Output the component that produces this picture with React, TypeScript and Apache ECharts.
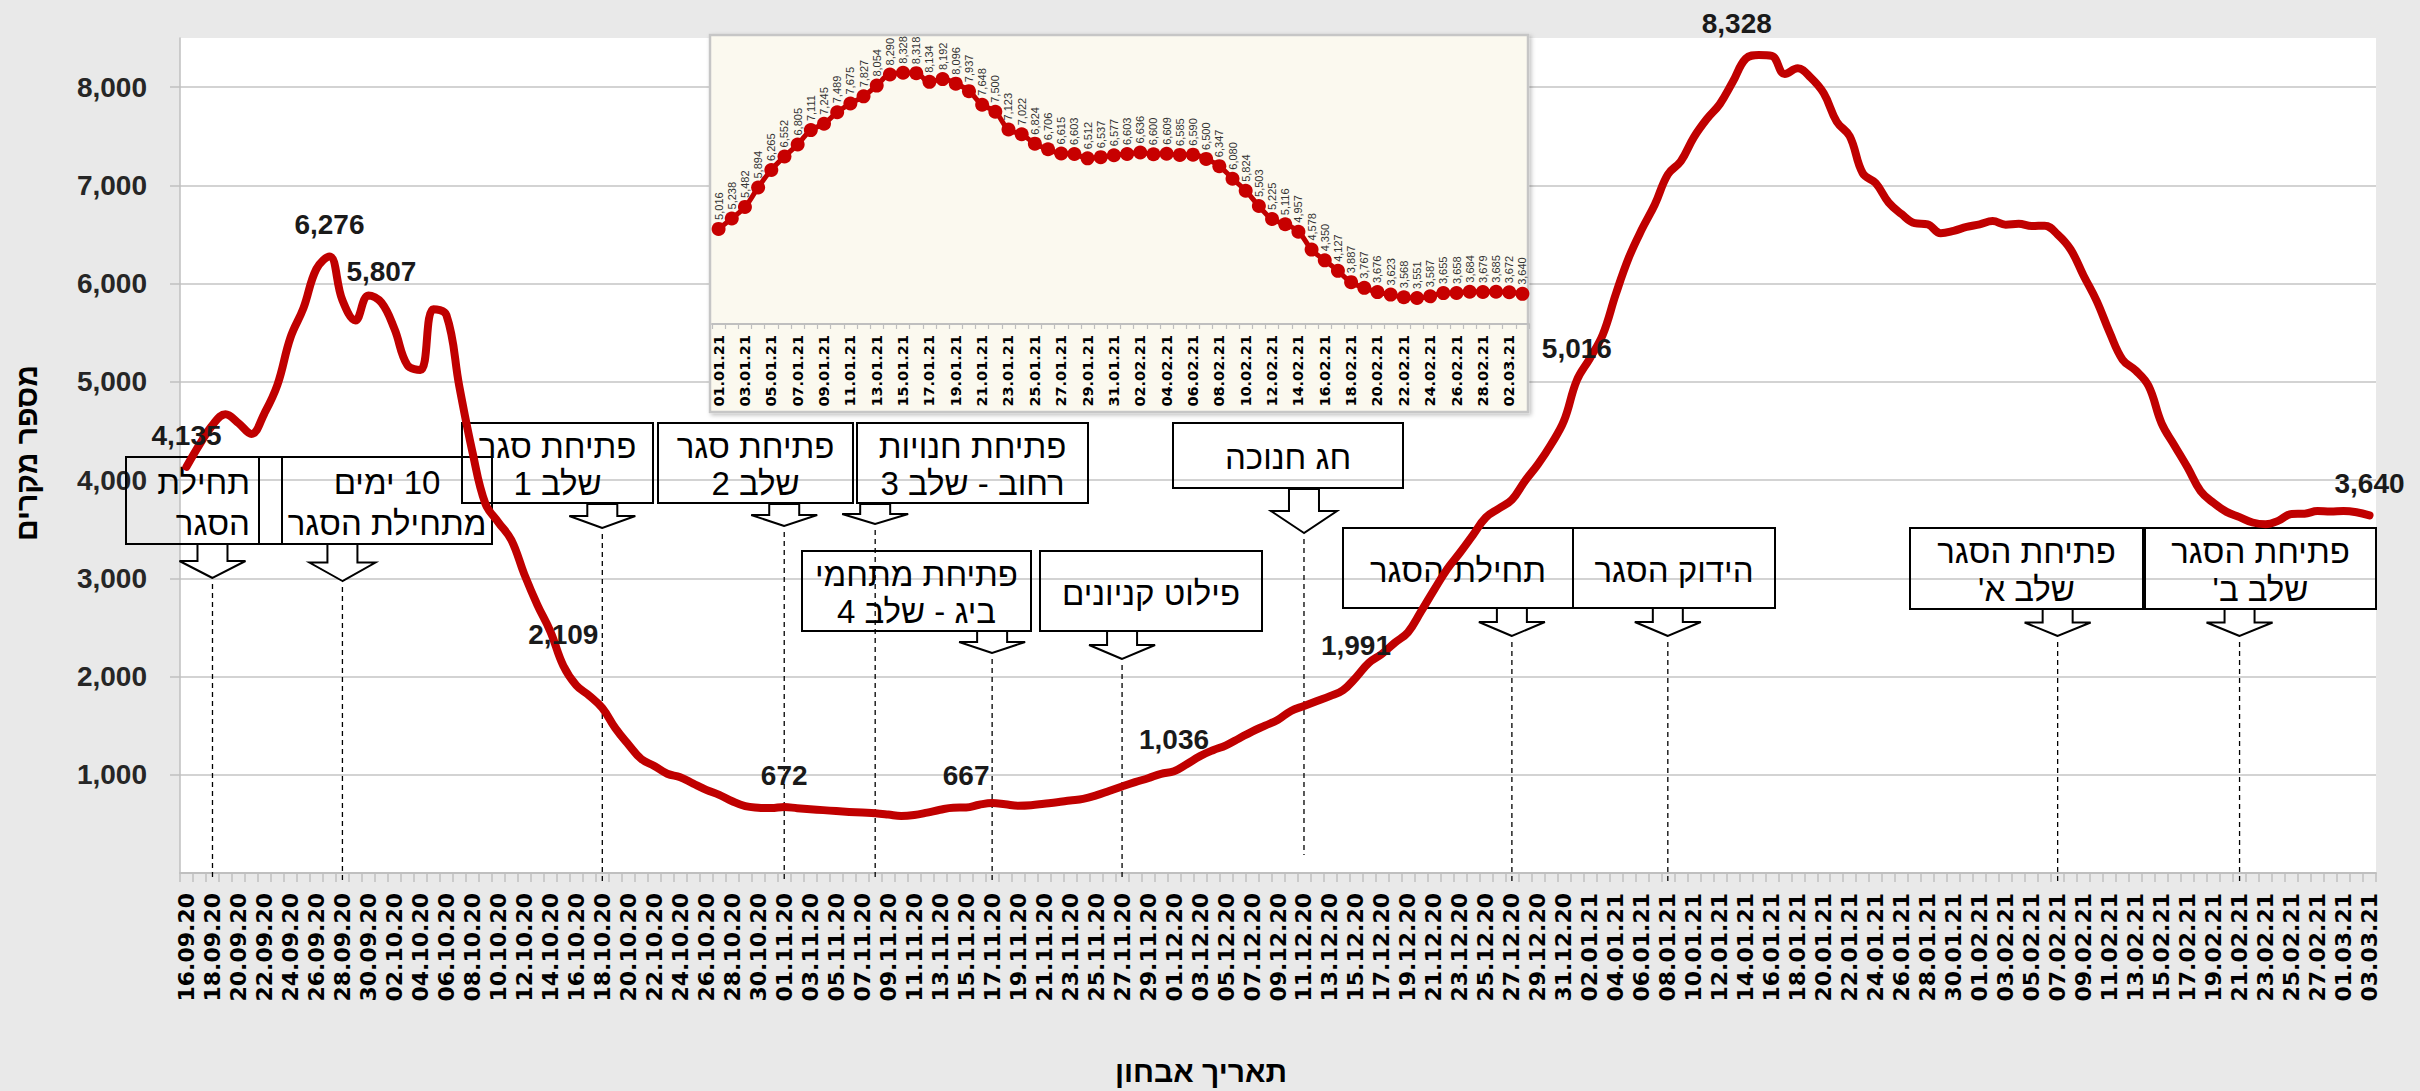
import React, { useEffect, useRef } from "react";
import * as echarts from "echarts";

function pad2(n: number): string {
  return n < 10 ? "0" + n : String(n);
}
function dateLabels(y: number, m: number, d: number, count: number): string[] {
  const out: string[] = [];
  for (let i = 0; i < count; i++) {
    const t = new Date(Date.UTC(y, m, d + i));
    out.push(pad2(t.getUTCDate()) + "." + pad2(t.getUTCMonth() + 1) + "." + String(t.getUTCFullYear()).slice(2));
  }
  return out;
}

// categories
const mainDates = dateLabels(2020, 8, 16, 169); // 16.09.20 .. 03.03.21
const insetDates = dateLabels(2021, 0, 1, 62); // 01.01.21 .. 03.03.21

// 16.09.20 - 31.12.20
const autumnCases = [
  4135, 4360, 4560, 4670, 4580, 4470, 4680, 4970, 5450, 5750,
  6150, 6276, 5830, 5625, 5880, 5807, 5540, 5170, 5120, 5740,
  5680, 4950, 4290, 3760, 3570, 3390, 3040, 2730, 2460, 2109,
  1910, 1805, 1680, 1475, 1310, 1160, 1090, 1010, 975, 910,
  847, 795, 730, 680, 665, 661, 672, 660, 650, 640,
  630, 622, 615, 608, 595, 580, 590, 615, 644, 665,
  667, 695, 712, 700, 685, 690, 705, 720, 738, 755,
  790, 835, 881, 925, 965, 1010, 1036, 1110, 1190, 1250,
  1300, 1370, 1440, 1500, 1560, 1650, 1700, 1750, 1800, 1860,
  1991, 2140, 2230, 2345, 2450, 2660, 2880, 3090, 3260, 3440,
  3620, 3710, 3800, 3990, 4160, 4360, 4600,
];

// 01.01.21 - 03.03.21 (inset labels)
const winterCases = [
  5016, 5238, 5482, 5894, 6265, 6552, 6805, 7111, 7245, 7489,
  7675, 7827, 8054, 8290, 8328, 8318, 8134, 8192, 8096, 7937,
  7648, 7500, 7123, 7022, 6824, 6706, 6615, 6603, 6512, 6537,
  6577, 6603, 6636, 6600, 6609, 6585, 6590, 6500, 6347, 6080,
  5824, 5503, 5225, 5116, 4957, 4578, 4350, 4127, 3887, 3767,
  3676, 3623, 3568, 3551, 3587, 3655, 3658, 3684, 3679, 3685,
  3672, 3640,
];

const mainCases = autumnCases.concat(winterCases);

const labelledDates = [
  "16.09.20", "27.09.20", "01.10.20", "15.10.20", "01.11.20", "15.11.20",
  "01.12.20", "15.12.20", "01.01.21", "15.01.21", "03.03.21",
];

const yTicks = [0, 1000, 2000, 3000, 4000, 5000, 6000, 7000, 8000];

// event markers (dates) with arrow geometry (layout)
const eventMarks = [
  { date: "18.09.20", top: 544, tip: 578 },
  { date: "28.09.20", top: 544, tip: 581 },
  { date: "18.10.20", top: 504, tip: 528 },
  { date: "01.11.20", top: 504, tip: 526 },
  { date: "08.11.20", top: 504, tip: 524 },
  { date: "17.11.20", top: 631, tip: 653 },
  { date: "27.11.20", top: 631, tip: 659 },
  { date: "11.12.20", top: 489, tip: 533, end: 855 },
  { date: "27.12.20", top: 608, tip: 636 },
  { date: "08.01.21", top: 608, tip: 636 },
  { date: "07.02.21", top: 609, tip: 636 },
  { date: "21.02.21", top: 609, tip: 636 },
];

// annotation boxes (layout)
const noteBoxes = [
  { x: 126, y: 457, w: 133, h: 87, lines: ["תחילת", "הסגר"], align: "right" },
  { x: 259, y: 457, w: 23, h: 87, lines: [] as string[], align: "center" },
  { x: 282, y: 457, w: 210, h: 87, lines: ["10 ימים", "מתחילת הסגר"], align: "center" },
  { x: 462, y: 423, w: 191, h: 80, lines: ["פתיחת סגר", "שלב 1"], align: "center" },
  { x: 658, y: 423, w: 195, h: 80, lines: ["פתיחת סגר", "שלב 2"], align: "center" },
  { x: 857, y: 423, w: 231, h: 80, lines: ["פתיחת חנויות", "רחוב - שלב 3"], align: "center" },
  { x: 802, y: 551, w: 229, h: 80, lines: ["פתיחת מתחמי", "ביג - שלב 4"], align: "center" },
  { x: 1040, y: 551, w: 222, h: 80, lines: ["פילוט קניונים"], align: "center" },
  { x: 1173, y: 423, w: 230, h: 65, lines: ["חג חנוכה"], align: "center" },
  { x: 1343, y: 528, w: 230, h: 80, lines: ["תחילת הסגר"], align: "center" },
  { x: 1573, y: 528, w: 202, h: 80, lines: ["הידוק הסגר"], align: "center" },
  { x: 1910, y: 528, w: 233, h: 81, lines: ["פתיחת הסגר", "שלב א'"], align: "center" },
  { x: 2145, y: 528, w: 231, h: 81, lines: ["פתיחת הסגר", "שלב ב'"], align: "center" },
];

const HEB = '"Liberation Sans", "DejaVu Sans", Arial, sans-serif';
const RED = "#c00000";
const fmt = (v: number) => v.toLocaleString("en-US");

function buildOption(): any {
  const mainData = mainCases.map((v, i) => {
    if (labelledDates.indexOf(mainDates[i]) < 0) return v;
    const label: any = { show: true };
    if (mainDates[i] === "15.01.21") label.offset = [-22, 0];
    return { value: v, label };
  });
  return {
    animation: false,
    backgroundColor: "#e9e9e9",
    grid: [
      { left: 180, right: 44, top: 38, bottom: 218, show: true, backgroundColor: "#ffffff", borderWidth: 0, outerBoundsMode: "none" },
      { left: 712, right: 891, top: 41, bottom: 767, show: false, outerBoundsMode: "none" },
    ],
    xAxis: [
      {
        type: "category",
        gridIndex: 0,
        data: mainDates,
        boundaryGap: true,
        axisLine: { show: true, lineStyle: { color: "#bfbfbf", width: 2 } },
        axisTick: { show: true, interval: 0, length: 9, lineStyle: { color: "#bfbfbf", width: 1.5 } },
        axisLabel: {
          interval: 1,
          rotate: 90,
          margin: 20,
          color: "#000",
          fontFamily: "DejaVu Sans",
          fontWeight: "bold",
          fontSize: 22,
        },
        splitLine: { show: false },
      },
      {
        type: "category",
        gridIndex: 1,
        data: insetDates,
        boundaryGap: true,
        z: 6,
        axisLine: { show: true, lineStyle: { color: "#bfbfbf", width: 2 } },
        axisTick: { show: true, interval: 0, length: 5, lineStyle: { color: "#bfbfbf", width: 1.2 } },
        axisLabel: {
          interval: 1,
          rotate: 90,
          margin: 11,
          color: "#000",
          fontFamily: "DejaVu Sans",
          fontWeight: "bold",
          fontSize: 14.5,
        },
        splitLine: { show: false },
      },
    ],
    yAxis: [
      {
        type: "value",
        gridIndex: 0,
        min: yTicks[0],
        max: 8500,
        interval: 1000,
        axisLine: { show: true, lineStyle: { color: "#bfbfbf", width: 1.5 } },
        axisTick: { show: true, length: 10, lineStyle: { color: "#bfbfbf", width: 1.5 } },
        axisLabel: {
          margin: 33,
          showMinLabel: false,
          showMaxLabel: false,
          color: "#262626",
          fontFamily: HEB,
          fontWeight: "bold",
          fontSize: 28,
          formatter: (v: number) => (yTicks.indexOf(v) > 0 ? fmt(v) : ""),
        },
        splitLine: { show: true, showMinLine: false, showMaxLine: false, lineStyle: { color: "#c4c4c4", width: 1.5 } },
      },
      { type: "value", gridIndex: 1, min: 3000, max: 9000, show: false, splitLine: { show: false } },
    ],
    series: [
      {
        type: "line",
        name: "main",
        xAxisIndex: 0,
        yAxisIndex: 0,
        data: mainData,
        smooth: 0.4,
        symbol: "circle",
        symbolSize: 1,
        showSymbol: true,
        showAllSymbol: true,
        itemStyle: { color: "rgba(0,0,0,0)" },
        lineStyle: { color: RED, width: 8, cap: "round", join: "round" },
        label: {
          show: false,
          position: "top",
          distance: 17,
          color: "#1a1a1a",
          fontFamily: HEB,
          fontWeight: "bold",
          fontSize: 28,
          formatter: (p: any) => fmt(p.value),
        },
        z: 3,
      },
      {
        type: "line",
        name: "inset",
        xAxisIndex: 1,
        yAxisIndex: 1,
        data: winterCases,
        smooth: true,
        symbol: "circle",
        symbolSize: 14,
        showAllSymbol: true,
        itemStyle: { color: "#c70000" },
        lineStyle: { color: RED, width: 5 },
        label: {
          show: true,
          position: "top",
          distance: 2,
          rotate: 90,
          align: "left",
          verticalAlign: "middle",
          color: "#333",
          fontFamily: HEB,
          fontSize: 11,
          formatter: (p: any) => fmt(p.value),
        },
        z: 4,
      },
    ],
  };
}

function buildGraphics(chart: any): any[] {
  const g: any[] = [];
  // inset panel background
  g.push({
    type: "rect",
    silent: true,
    z: 1,
    shape: { x: 710, y: 35, width: 818, height: 377 },
    style: {
      fill: "#fbf9ef",
      stroke: "#c6c6c6",
      lineWidth: 2.5,
      shadowBlur: 4,
      shadowOffsetX: 2,
      shadowOffsetY: 2,
      shadowColor: "rgba(0,0,0,0.25)",
    },
  });
  // boxes
  noteBoxes.forEach((b) => {
    g.push({
      type: "rect",
      silent: true,
      z: 1,
      shape: { x: b.x, y: b.y, width: b.w, height: b.h },
      style: { fill: "none", stroke: "#000", lineWidth: 2 },
    });
    const n = b.lines.length;
    b.lines.forEach((line, i) => {
      const ty = n === 1 ? b.y + b.h / 2 + 2 : b.y + b.h * (i === 0 ? 0.29 : 0.76);
      const tx = b.align === "right" ? b.x + b.w - 9 : b.x + b.w / 2;
      g.push({
        type: "text",
        silent: true,
        z: 1,
        x: tx,
        y: ty,
        style: {
          text: "\u202B" + line + "\u202C",
          fill: "#000",
          fontFamily: HEB,
          fontSize: 33,
          align: b.align === "right" ? "right" : "center",
          verticalAlign: "middle",
        },
      });
    });
  });
  // arrows + dashed lines
  const axisY = chart.convertToPixel({ yAxisIndex: 0 }, 0);
  eventMarks.forEach((m) => {
    const idx = mainDates.indexOf(m.date);
    const x = chart.convertToPixel({ xAxisIndex: 0 }, idx);
    const headY = m.top + (m.tip - m.top) * 0.5;
    g.push({
      type: "polygon",
      silent: true,
      z: 1,
      shape: {
        points: [
          [x, m.tip],
          [x - 33, headY],
          [x - 15, headY],
          [x - 15, m.top],
          [x + 15, m.top],
          [x + 15, headY],
          [x + 33, headY],
        ],
      },
      style: { fill: "#fff", stroke: "#000", lineWidth: 2 },
    });
    g.push({
      type: "line",
      silent: true,
      z: 1,
      shape: { x1: x, y1: m.tip + 6, x2: x, y2: m.end ? m.end : axisY + 8 },
      style: { stroke: "#000", lineWidth: 1.3, lineDash: [5, 4] },
    });
  });
  // axis titles
  g.push({
    type: "text",
    silent: true,
    z: 5,
    x: 26,
    y: 453,
    rotation: Math.PI / 2,
    style: {
      text: "מספר מקרים",
      fill: "#000",
      fontFamily: HEB,
      fontWeight: "bold",
      fontSize: 30,
      align: "center",
      verticalAlign: "middle",
    },
  });
  g.push({
    type: "text",
    silent: true,
    z: 5,
    x: 1201,
    y: 1071,
    style: {
      text: "תאריך אבחון",
      fill: "#000",
      fontFamily: HEB,
      fontWeight: "bold",
      fontSize: 30,
      align: "center",
      verticalAlign: "middle",
    },
  });
  return g;
}

export default function App() {
  const ref = useRef<HTMLDivElement>(null);
  useEffect(() => {
    if (!ref.current) return;
    const chart = echarts.init(ref.current, null, { renderer: "svg" });
    chart.setOption(buildOption());
    chart.setOption({ graphic: buildGraphics(chart) });
    return () => chart.dispose();
  }, []);
  return (
    <div
      ref={ref}
      style={{ position: "fixed", left: 0, top: 0, width: "2420px", height: "1091px" }}
    />
  );
}
